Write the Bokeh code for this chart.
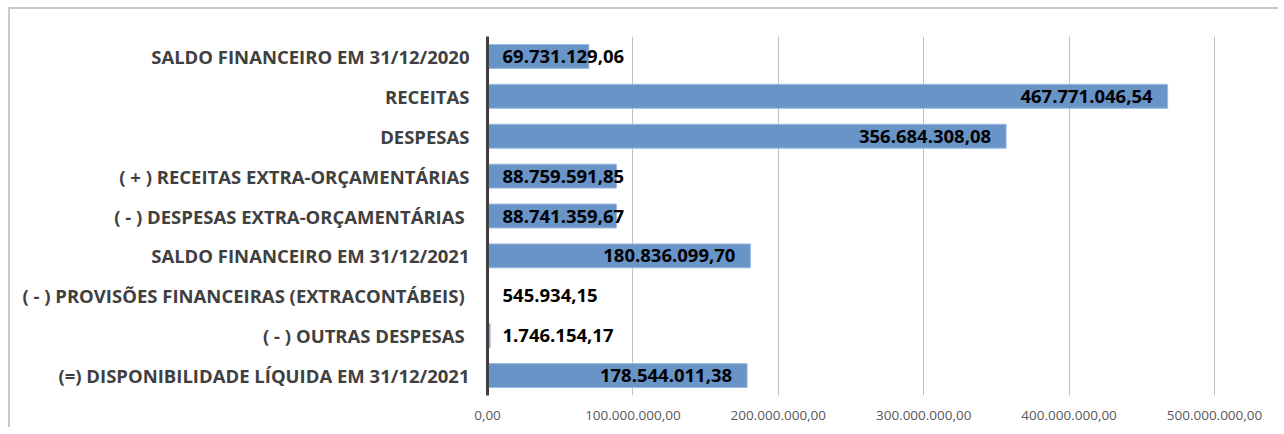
from bokeh.plotting import figure
from bokeh.models import ColumnDataSource, FactorRange, FixedTicker, Range1d
from bokeh.core.properties import value
from bokeh.embed import file_html
from bokeh.resources import INLINE

categories = [
    "SALDO FINANCEIRO EM 31/12/2020",
    "RECEITAS",
    "DESPESAS",
    "( + ) RECEITAS EXTRA-ORÇAMENTÁRIAS",
    "( - )  DESPESAS EXTRA-ORÇAMENTÁRIAS",
    "SALDO FINANCEIRO EM 31/12/2021",
    "( - )  PROVISÕES FINANCEIRAS (EXTRACONTÁBEIS)",
    "( - )  OUTRAS DESPESAS",
    "(=) DISPONIBILIDADE LÍQUIDA EM 31/12/2021",
]
values = [69731129.06, 467771046.54, 356684308.08, 88759591.85, 88741359.67,
          180836099.70, 545934.15, 1746154.17, 178544011.38]
value_labels = ["69.731.129,06", "467.771.046,54", "356.684.308,08", "88.759.591,85",
                "88.741.359,67", "180.836.099,70", "545.934,15", "1.746.154,17",
                "178.544.011,38"]
tick_values = [0, 100e6, 200e6, 300e6, 400e6, 500e6]
tick_labels = ["0,00", "100.000.000,00", "200.000.000,00", "300.000.000,00",
               "400.000.000,00", "500.000.000,00"]

W, H = 1270, 420
p = figure(width=W, height=H, output_backend="svg", toolbar_location=None,
           y_range=FactorRange(*reversed(categories)),
           x_range=Range1d(0, 545.4e6),
           min_border_left=477, min_border_right=0, min_border_top=27,
           min_border_bottom=34)
p.styles = {"border-left": "2px solid #C8C8C8", "border-top": "2px solid #C8C8C8",
            "margin-left": "8px", "margin-top": "7px"}
p.outline_line_color = None
p.background_fill_color = "white"

src = ColumnDataSource(dict(cat=categories, val=values, lab=value_labels))
p.hbar(y="cat", right="val", left=0, height=0.6, source=src,
       fill_color="#6894C8", line_color="#9DBBE0", line_width=1)

# label placement: inside end for long bars, from the base for short ones
long_idx = [i for i, v in enumerate(values) if v >= 110e6]
short_idx = [i for i, v in enumerate(values) if v < 110e6]
src_long = ColumnDataSource(dict(cat=[categories[i] for i in long_idx],
                                 val=[values[i] for i in long_idx],
                                 lab=[value_labels[i] for i in long_idx]))
src_short = ColumnDataSource(dict(cat=[categories[i] for i in short_idx],
                                  val=[0 for i in short_idx],
                                  lab=[value_labels[i] for i in short_idx]))
common = dict(text="lab", text_font=value("Open Sans"), text_font_style="bold",
              text_font_size="18.5px", text_color="black", text_baseline="middle")
p.text(x="val", y="cat", source=src_long, text_align="right", x_offset=-15, **common)
p.text(x="val", y="cat", source=src_short, text_align="left", x_offset=15, **common)

p.xgrid.grid_line_color = "#C0C0C0"
p.xgrid.grid_line_width = 1
p.xgrid.ticker = FixedTicker(ticks=tick_values)
p.ygrid.grid_line_color = None

p.xaxis.ticker = FixedTicker(ticks=tick_values)
p.xaxis.major_label_overrides = {t: l for t, l in zip(tick_values, tick_labels)}
p.xaxis.axis_line_color = None
p.xaxis.major_tick_line_color = None
p.xaxis.minor_tick_line_color = None
p.xaxis.major_label_standoff = 9
p.xaxis.major_label_text_font = "Open Sans"
p.xaxis.major_label_text_font_size = "13.5px"
p.xaxis.major_label_text_color = "#595959"

p.yaxis.axis_line_color = "#404040"
p.yaxis.axis_line_width = 3
p.yaxis.major_tick_line_color = None
p.yaxis.minor_tick_line_color = None
p.yaxis.major_label_standoff = 12
p.yaxis.major_label_text_font = "Open Sans"
p.yaxis.major_label_text_font_style = "bold"
p.yaxis.major_label_text_font_size = "18.5px"
p.yaxis.major_label_text_color = "#404040"

open("out.html", "w").write(file_html(p, INLINE))
